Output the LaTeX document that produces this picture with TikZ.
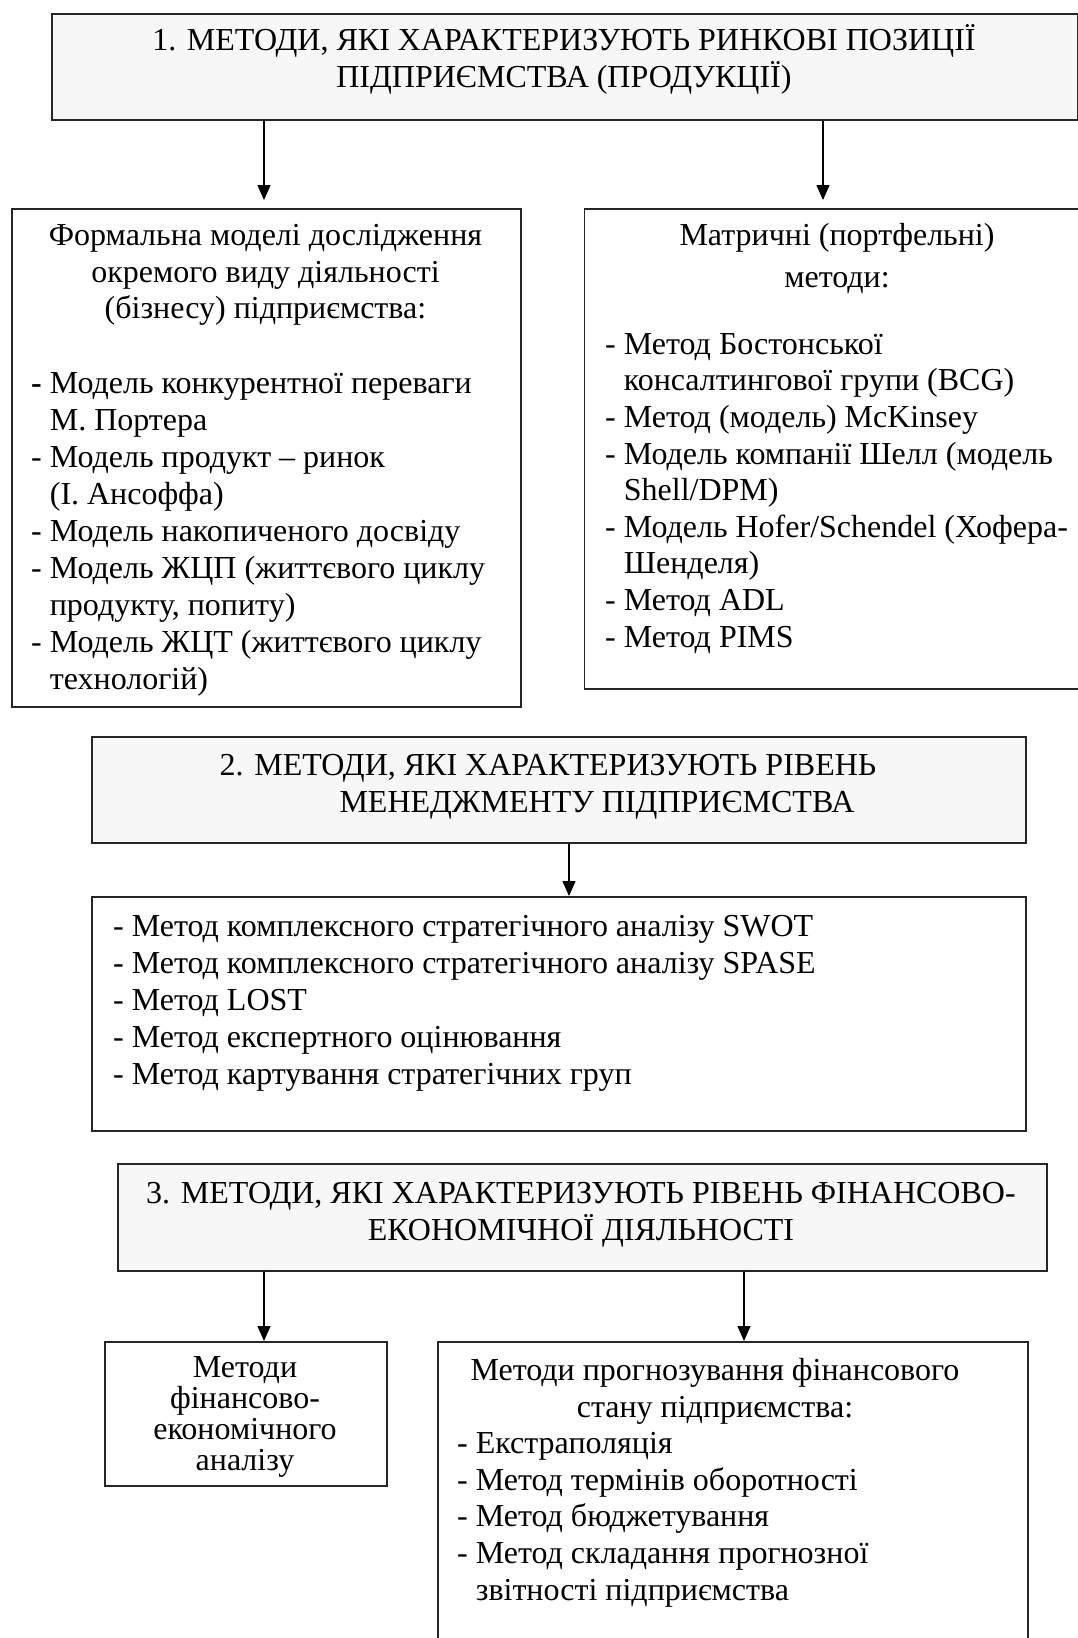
\documentclass[tikz,border=0pt]{standalone}
\usepackage{fontspec}
\setmainfont{Liberation Serif}
\usetikzlibrary{arrows.meta}
\definecolor{hdrfill}{RGB}{247,247,247}
\newcommand\fl{\rule{0pt}{30pt}}
\newcommand\ind{\phantom{- }}
\tikzset{
 box/.style={draw=black!85, line width=1.6pt, anchor=north west, inner sep=0pt},
 hdr/.style={box, fill=hdrfill},
 txt/.style={inner sep=0pt, font=\fontsize{32}{36.8}\selectfont},
 ctr/.style={txt, align=center, anchor=north},
 lst/.style={txt, align=left, anchor=north west},
 arr/.style={line width=1.4pt, -{Triangle[length=15pt,width=13pt]}}
}
\begin{document}
\begin{tikzpicture}[x=1pt,y=-1pt]
\useasboundingbox[fill=white] (0,0) rectangle (1078,1638);

% boxes
\node[hdr, minimum width=1026pt, minimum height=106pt] (b1) at (51,13) {};
\node[box, minimum width=509pt, minimum height=498pt] (bA) at (11,208) {};
\node[box, minimum width=508pt, minimum height=480pt] (bB) at (583.5,208) {};
\node[hdr, minimum width=934pt, minimum height=106pt] (b2) at (91,736) {};
\node[box, minimum width=934pt, minimum height=234pt] (bC) at (91,896) {};
\node[hdr, minimum width=929pt, minimum height=107pt] (b3) at (117,1163) {};
\node[box, minimum width=282pt, minimum height=144pt] (bD) at (104,1341) {};
\node[box, minimum width=590pt, minimum height=330pt] (bE) at (437,1341) {};

% texts
\node[ctr] (t1) at (564,20) {\fl 1. МЕТОДИ, ЯКІ ХАРАКТЕРИЗУЮТЬ РИНКОВІ ПОЗИЦІЇ\\ПІДПРИЄМСТВА (ПРОДУКЦІЇ)};

\node[ctr] (tAh) at (265.5,215) {\fl Формальна моделі дослідження\\окремого виду діяльності\\(бізнесу) підприємства:};
\node[lst, font=\fontsize{32}{37}\selectfont] (tAl) at (31,363) {\fl\textbf{-} Модель конкурентної переваги\\
\ind М. Портера\\
- Модель продукт – ринок\\
\ind (І. Ансоффа)\\
- Модель накопиченого досвіду\\
- Модель ЖЦП (життєвого циклу\\
\ind продукту, попиту)\\
- Модель ЖЦТ (життєвого циклу\\
\ind технологій)};

\node[ctr] (tBh) at (837,215) {\fl Матричні (портфельні)\\[5pt]методи:};
\node[lst, font=\fontsize{32}{36.6}\selectfont] (tBl) at (605,324) {\fl - Метод Бостонської\\
\ind консалтингової групи (BCG)\\
- Метод (модель) McKinsey\\
- Модель компанії Шелл (модель\\
\ind Shell/DPM)\\
- Модель Hofer/Schendel (Хофера-\\
\ind Шенделя)\\
- Метод ADL\\
- Метод PIMS};

\node[ctr] (t2a) at (548,745) {\fl 2. МЕТОДИ, ЯКІ ХАРАКТЕРИЗУЮТЬ РІВЕНЬ};
\node[ctr] (t2b) at (597,782) {\fl МЕНЕДЖМЕНТУ ПІДПРИЄМСТВА};

\node[lst] (tC) at (113,906.7) {\fl - Метод комплексного стратегічного аналізу SWOT\\
- Метод комплексного стратегічного аналізу SPASE\\
- Метод LOST\\
- Метод експертного оцінювання\\
- Метод картування стратегічних груп};

\node[ctr] (t3) at (581,1173) {\fl 3. МЕТОДИ, ЯКІ ХАРАКТЕРИЗУЮТЬ РІВЕНЬ ФІНАНСОВО-\\ЕКОНОМІЧНОЇ ДІЯЛЬНОСТІ};

\node[ctr, font=\fontsize{32}{31}\selectfont] (tD) at (245,1347) {\fl Методи\\фінансово-\\економічного\\аналізу};

\node[ctr] (tEh) at (715,1350) {\fl Методи прогнозування фінансового\\стану підприємства:};
\node[lst] (tEl) at (457,1423) {\fl - Екстраполяція\\
- Метод термінів оборотності\\
- Метод бюджетування\\
- Метод складання прогнозної\\
\ind звітності підприємства};

% connectors
\coordinate (xa) at (264,0);
\coordinate (xb) at (823,0);
\coordinate (xc) at (569,0);
\coordinate (xd) at (264,0);
\coordinate (xe) at (744,0);
\draw[arr, shorten >=8pt] (b1.south -| xa) -- (bA.north -| xa);
\draw[arr, shorten >=8pt] (b1.south -| xb) -- (bB.north -| xb);
\draw[arr] (b2.south -| xc) -- (bC.north -| xc);
\draw[arr] (b3.south -| xd) -- (bD.north -| xd);
\draw[arr] (b3.south -| xe) -- (bE.north -| xe);
\end{tikzpicture}
\end{document}
